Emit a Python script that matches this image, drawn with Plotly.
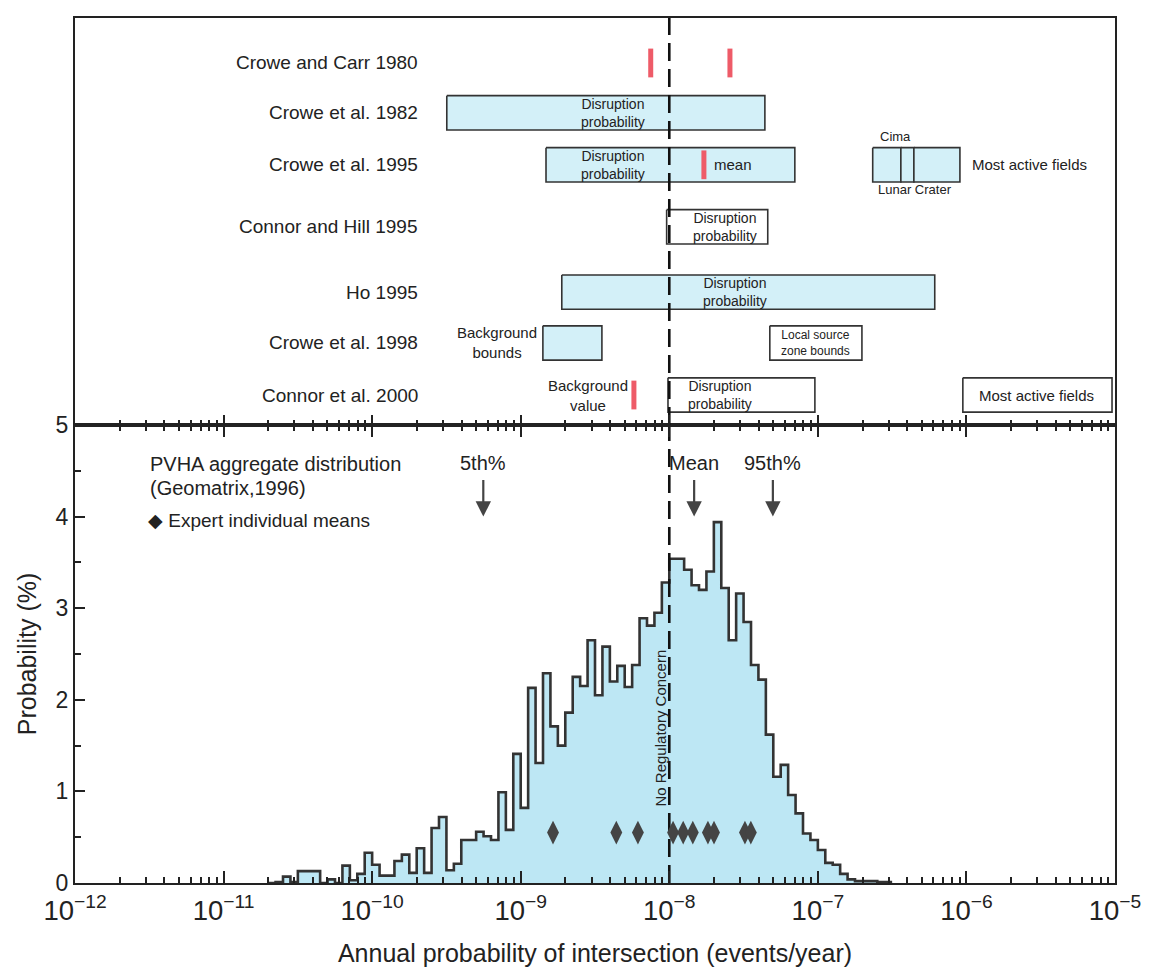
import numpy as np
import plotly.graph_objects as go

# ---- lower panel: PVHA aggregate distribution (0.05-decade bins) ----
BIN_START_EXP = -10.7
BIN_WIDTH_DEC = 0.05
hist_pct = [
    0.0, 0.01, 0.07, 0.01, 0.13, 0.13, 0.13, 0.0, 0.04, 0.0,
    0.19, 0.03, 0.10, 0.33, 0.20, 0.08, 0.08, 0.24, 0.31, 0.11,
    0.38, 0.11, 0.60, 0.72, 0.14, 0.21, 0.47, 0.47, 0.56, 0.51,
    0.47, 0.99, 0.58, 1.41, 0.82, 2.13, 1.31, 2.29, 1.71, 1.50,
    1.86, 2.25, 2.15, 2.65, 2.05, 2.58, 2.20, 2.37, 2.14, 2.38,
    2.89, 2.81, 2.95, 3.28, 3.54, 3.54, 3.42, 3.25, 3.20, 3.40,
    3.94, 3.22, 2.65, 3.16, 2.85, 2.38, 2.22, 1.62, 1.16, 1.29,
    0.96, 0.76, 0.54, 0.47, 0.36, 0.22, 0.20, 0.10, 0.04, 0.02,
    0.02, 0.02, 0.01, 0.01,
]

expert_means = [1.65e-9, 4.4e-9, 6.15e-9, 1.06e-8, 1.24e-8, 1.44e-8,
                1.82e-8, 2.0e-8, 3.23e-8, 3.54e-8]
EXPERT_LEVEL = 0.55

pct_labels = ["5th%", "Mean", "95th%"]
pct_values = [5.6e-10, 1.47e-8, 4.98e-8]
PCT_ARROW_TIP = 4.0

REG_THRESHOLD = 1e-8

# ---- upper panel: published estimates ----
studies = ["Crowe and Carr 1980", "Crowe et al. 1982", "Crowe et al. 1995",
           "Connor and Hill 1995", "Ho 1995", "Crowe et al. 1998",
           "Connor et al. 2000"]

box_row = [1, 2, 2, 2, 2, 3, 4, 5, 5, 6, 6]
box_lo = [3.18e-10, 1.48e-9, 2.34e-7, 3.62e-7, 4.43e-7, 9.6e-9, 1.89e-9,
          1.41e-9, 4.75e-8, 9.8e-9, 9.46e-7]
box_hi = [4.40e-8, 7.0e-8, 3.62e-7, 4.43e-7, 9.04e-7, 4.6e-8, 6.12e-7,
          3.52e-9, 1.98e-7, 9.55e-8, 9.55e-6]
box_filled = [True, True, True, True, True, False, True, True, False, False, False]

tick_row = [0, 0, 2, 6]
tick_val = [7.5e-9, 2.56e-8, 1.71e-8, 5.78e-9]

note_row = [1, 2, 2, 2, 2, 2, 3, 4, 5, 5, 6, 6, 6]
note_x = [4.18e-9, 4.18e-9, 1.94e-8, 1.05e-6, 3.35e-7, 4.5e-7, 2.37e-8,
          2.76e-8, 6.9e-10, 9.7e-8, 2.83e-9, 2.19e-8, 2.98e-6]
note_text = ["Disruption<br>probability", "Disruption<br>probability", "mean",
             "Most active fields", "Cima", "Lunar Crater",
             "Disruption<br>probability", "Disruption<br>probability",
             "Background<br>bounds", "Local source<br>zone bounds",
             "Background<br>value", "Disruption<br>probability",
             "Most active fields"]

# layout of the upper panel (vertical placement of each study row, text styling)
ROW_POS = [0, 0.90, 1.84, 2.96, 4.14, 5.06, 6.0]
note_anchor = ["center", "center", "left", "left", "center", "center", "center",
               "center", "center", "center", "center", "center", "center"]
note_size = [14, 14, 15, 15, 13, 13, 14, 14, 15, 12, 15, 14, 15]
note_shift = [0, 0, 0, 0, 28, -25, 0, 0, 0, 0, 0, 0, 0]

FONT = "Arial, Liberation Sans, sans-serif"
INK = "#222222"
BOX_FILL = "#d3f0f8"
HIST_FILL = "#bde7f4"
RED = "#ee5b68"
BOX_HALF = 0.31
TICK_HALF = 0.26
TOP_RANGE = [6.542, -0.813]

lower_top = 458 / 865

edges_exp = BIN_START_EXP + BIN_WIDTH_DEC * np.arange(len(hist_pct) + 1)
edges = 10 ** edges_exp
step_y = list(hist_pct) + [hist_pct[-1]]

fig = go.Figure()

# upper panel boxes
for r, lo, hi, filled in zip(box_row, box_lo, box_hi, box_filled):
    yc = ROW_POS[r]
    fig.add_trace(go.Scatter(
        x=[lo, hi, hi, lo, lo],
        y=[yc - BOX_HALF, yc - BOX_HALF, yc + BOX_HALF, yc + BOX_HALF, yc - BOX_HALF],
        xaxis="x2", yaxis="y2", mode="lines", fill="toself",
        fillcolor=BOX_FILL if filled else "rgba(255,255,255,0)",
        line=dict(color="#333333", width=1.6),
        showlegend=False, hoverinfo="skip",
    ))

# lower panel histogram
fig.add_trace(go.Scatter(
    x=edges, y=step_y, mode="lines", line_shape="hv",
    line=dict(color="#333333", width=2.6),
    fill="tozeroy", fillcolor=HIST_FILL, showlegend=False, hoverinfo="skip",
))

# regulatory threshold, dashed through both panels
dash = dict(color="#111111", width=2.6, dash="18px,8px")
fig.add_trace(go.Scatter(x=[REG_THRESHOLD] * 2, y=[0, 5], mode="lines",
                         line=dash, showlegend=False, hoverinfo="skip"))
fig.add_trace(go.Scatter(x=[REG_THRESHOLD] * 2, y=TOP_RANGE, xaxis="x2",
                         yaxis="y2", mode="lines", line=dash,
                         showlegend=False, hoverinfo="skip"))

# red point estimates
for r, v in zip(tick_row, tick_val):
    yc = ROW_POS[r]
    fig.add_trace(go.Scatter(
        x=[v, v], y=[yc - TICK_HALF, yc + TICK_HALF], xaxis="x2", yaxis="y2",
        mode="lines", line=dict(color=RED, width=5),
        showlegend=False, hoverinfo="skip",
    ))

fig.add_trace(go.Scatter(
    x=expert_means, y=[EXPERT_LEVEL] * len(expert_means), mode="markers",
    marker=dict(symbol="diamond-tall", size=17, color="#444444"),
    showlegend=False,
))

annotations = []
for i, name in enumerate(studies):
    annotations.append(dict(
        x=-9.68, y=ROW_POS[i], xref="x2", yref="y2", text=name, showarrow=False,
        xanchor="right", font=dict(size=19, color=INK, family=FONT),
    ))
for r, x, t, a, s, sh in zip(note_row, note_x, note_text, note_anchor,
                             note_size, note_shift):
    annotations.append(dict(
        x=np.log10(x), y=ROW_POS[r], xref="x2", yref="y2", text=t,
        showarrow=False, xanchor=a, yshift=sh,
        font=dict(size=s, color=INK, family=FONT),
    ))
for lab, v in zip(pct_labels, pct_values):
    annotations.append(dict(
        x=np.log10(v), y=PCT_ARROW_TIP, xref="x", yref="y", text=lab,
        showarrow=True, ax=0, ay=-54, arrowhead=2, arrowsize=1.4,
        arrowwidth=2.2, arrowcolor="#444444", startstandoff=5,
        font=dict(size=20, color=INK, family=FONT),
    ))
annotations += [
    dict(x=-11.51, y=4.57, xref="x", yref="y", text="PVHA aggregate distribution",
         showarrow=False, xanchor="left", font=dict(size=20, color=INK, family=FONT)),
    dict(x=-11.51, y=4.31, xref="x", yref="y", text="(Geomatrix,1996)",
         showarrow=False, xanchor="left", font=dict(size=20, color=INK, family=FONT)),
    dict(x=-11.52, y=3.96, xref="x", yref="y", text="◆ Expert individual means",
         showarrow=False, xanchor="left", font=dict(size=19, color=INK, family=FONT)),
    dict(x=np.log10(REG_THRESHOLD), y=1.69, xref="x", yref="y",
         text="No Regulatory Concern", textangle=-90, xshift=-9,
         showarrow=False, font=dict(size=15, color=INK, family=FONT)),
]

axis_line = dict(showline=True, linecolor="#222222", linewidth=2,
                 showgrid=False, zeroline=False, automargin=False)

fig.update_layout(
    width=1152, height=978,
    margin=dict(l=67, r=45, t=10, b=103),
    paper_bgcolor="white", plot_bgcolor="white",
    font=dict(family=FONT, color=INK),
    annotations=annotations,
    xaxis=dict(
        type="log", range=[-12, -5], domain=[0, 1], anchor="y",
        dtick=1, exponentformat="power", ticks="inside", ticklen=12,
        tickwidth=1.5, tickcolor="#222222", mirror="allticks",
        ticklabelstandoff=3,
        minor=dict(ticks="inside", ticklen=6, dtick="D1", tickcolor="#222222"),
        tickfont=dict(size=22, color=INK, family=FONT),
        title=dict(text="Annual probability of intersection (events/year)",
                   font=dict(size=25, color=INK, family=FONT), standoff=20),
        **axis_line,
    ),
    yaxis=dict(
        range=[0, 5], domain=[0, lower_top], anchor="x", dtick=1,
        ticks="inside", ticklen=10, tickwidth=1.5, tickcolor="#222222",
        minor=dict(ticks="inside", ticklen=6, dtick=0.5, tickcolor="#222222"),
        mirror=True, tickfont=dict(size=23, color=INK, family=FONT),
        title=dict(text="Probability (%)", font=dict(size=25, color=INK, family=FONT),
                   standoff=12),
        **axis_line,
    ),
    xaxis2=dict(
        type="log", range=[-12, -5], matches="x", anchor="y2",
        showticklabels=False, dtick=1, ticks="inside", ticklen=10,
        tickwidth=1.5, tickcolor="#222222", mirror=True,
        minor=dict(ticks="inside", ticklen=5, dtick="D1", tickcolor="#222222"),
        **axis_line,
    ),
    yaxis2=dict(
        range=TOP_RANGE, domain=[lower_top, 1], anchor="x2",
        showticklabels=False, ticks="", mirror=True, **axis_line,
    ),
)

fig.write_html("out.html")
